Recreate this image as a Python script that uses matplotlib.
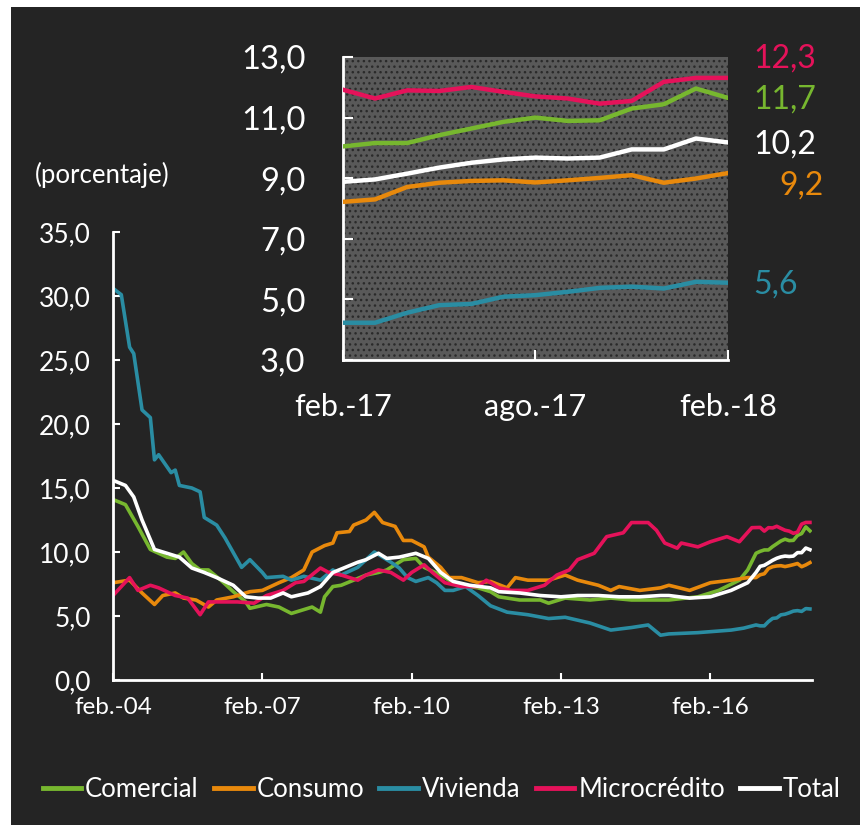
import numpy as np
import matplotlib
matplotlib.use("Agg")
import matplotlib.pyplot as plt
from matplotlib.patches import Rectangle

plt.rcParams['font.family'] = ['Lato', 'DejaVu Sans']

# meses desde feb.-04 (feb.-04 = 0 ... feb.-18 = 168)
# recuadro: feb.-17 a feb.-18, mensual
meses_ins = np.arange(156, 169)
com_ins = [10.05, 10.16, 10.16, 10.42, 10.64, 10.86, 11.0, 10.89, 10.91, 11.30, 11.44, 11.96, 11.65]
con_ins = [8.22, 8.30, 8.71, 8.85, 8.91, 8.93, 8.86, 8.93, 9.01, 9.10, 8.85, 8.99, 9.17]
viv_ins = [4.23, 4.23, 4.56, 4.81, 4.85, 5.09, 5.14, 5.25, 5.38, 5.42, 5.36, 5.58, 5.55]
mic_ins = [11.92, 11.63, 11.90, 11.88, 12.01, 11.85, 11.70, 11.63, 11.46, 11.55, 12.18, 12.31, 12.31]
tot_ins = [8.88, 8.96, 9.15, 9.35, 9.51, 9.62, 9.68, 9.65, 9.68, 9.95, 9.95, 10.31, 10.18]

# serie larga (antes de feb.-17)
m_com = [0, 3, 6, 9, 13, 15, 17, 19, 21, 23, 26, 29, 32, 33, 37, 40, 43, 46, 48, 50, 51, 53, 55, 58,
         61, 64, 66, 69, 70, 73, 75, 79, 81, 84, 88, 91, 93, 98, 103, 105, 109, 115, 120, 125, 129,
         134, 141, 146, 151, 153, 155]
v_com = [14.1, 13.7, 12.0, 10.2, 9.6, 9.5, 10.0, 9.1, 8.6, 8.6, 7.8, 6.9, 6.1, 5.6, 5.9, 5.7, 5.2, 5.5,
         5.7, 5.3, 6.5, 7.3, 7.4, 7.8, 8.2, 8.4, 8.6, 9.2, 9.4, 9.5, 8.8, 8.2, 7.8, 7.4, 7.2, 6.9, 6.5,
         6.25, 6.25, 6.0, 6.4, 6.25, 6.4, 6.25, 6.25, 6.25, 6.5, 7.0, 7.8, 8.6, 9.9]

m_con = [0, 4, 7, 10, 12, 15, 17, 20, 23, 25, 29, 33, 36, 40, 43, 46, 48, 51, 53, 54, 57, 58, 61, 63,
         65, 68, 70, 72, 75, 76, 79, 81, 84, 88, 91, 95, 97, 100, 105, 109, 112, 117, 120, 122, 127,
         132, 134, 139, 144, 149, 153, 155]
v_con = [7.6, 7.8, 6.8, 5.9, 6.6, 6.8, 6.4, 6.25, 5.7, 6.25, 6.5, 6.9, 7.0, 7.6, 8.0, 8.6, 10.0, 10.5,
         10.7, 11.5, 11.6, 12.1, 12.5, 13.1, 12.3, 12.0, 10.9, 10.9, 10.4, 9.6, 8.8, 8.0, 8.0, 7.6,
         7.7, 7.2, 8.0, 7.8, 7.8, 8.2, 7.8, 7.4, 7.0, 7.3, 7.0, 7.2, 7.4, 7.0, 7.6, 7.8, 8.0, 8.0]

m_viv = [0, 2, 4, 5, 7, 9, 10, 11, 14, 15, 16, 19, 21, 22, 25, 27, 31, 33, 36, 37, 41, 43, 46, 50, 53,
         55, 59, 63, 65, 67, 69, 71, 73, 76, 78, 80, 82, 85, 88, 91, 95, 100, 105, 109, 115, 120,
         125, 129, 132, 134, 141, 149, 152, 155]
v_viv = [30.6, 30.1, 26.0, 25.5, 21.1, 20.5, 17.2, 17.6, 16.2, 16.4, 15.2, 15.0, 14.7, 12.7, 12.1,
         11.1, 8.8, 9.4, 8.4, 8.0, 8.1, 7.8, 8.1, 7.8, 8.6, 8.2, 8.8, 10.0, 9.6, 9.2, 8.75, 8.0, 7.7,
         8.0, 7.6, 7.0, 7.0, 7.3, 6.6, 5.8, 5.3, 5.1, 4.8, 4.9, 4.45, 3.9, 4.1, 4.3, 3.5, 3.6, 3.7,
         3.9, 4.05, 4.3]

m_mic = [0, 4, 6, 9, 11, 15, 18, 21, 23, 25, 30, 34, 37, 41, 44, 46, 50, 52, 55, 59, 61, 64, 67, 70,
         72, 75, 77, 80, 84, 88, 90, 93, 96, 100, 104, 107, 110, 112, 116, 119, 123, 125, 129, 131,
         133, 136, 137, 141, 144, 148, 151, 154]
v_mic = [6.6, 8.0, 7.0, 7.4, 7.2, 6.6, 6.4, 5.1, 6.1, 6.1, 6.1, 6.0, 6.6, 7.0, 7.6, 7.7, 8.75, 8.4,
         8.2, 7.8, 8.2, 8.6, 8.4, 7.8, 8.4, 9.0, 8.4, 7.6, 7.3, 7.3, 7.8, 7.2, 7.0, 7.0, 7.4, 8.2, 8.6,
         9.4, 9.9, 11.2, 11.5, 12.3, 12.3, 11.7, 10.7, 10.3, 10.7, 10.4, 10.8, 11.2, 10.8, 11.9]

m_tot = [0, 3, 5, 7, 10, 13, 16, 19, 22, 25, 29, 32, 35, 38, 41, 43, 47, 50, 53, 56, 59, 61, 64, 66,
         69, 73, 76, 79, 82, 86, 91, 93, 98, 103, 108, 112, 117, 122, 127, 132, 134, 139, 144, 149,
         153, 155]
v_tot = [15.6, 15.2, 14.3, 12.5, 10.2, 9.9, 9.6, 8.75, 8.4, 8.0, 7.4, 6.5, 6.4, 6.4, 6.8, 6.5, 6.8,
         7.3, 8.4, 8.8, 9.2, 9.4, 9.9, 9.5, 9.6, 9.9, 9.5, 8.4, 7.7, 7.4, 7.2, 6.9, 6.8, 6.6, 6.5, 6.6,
         6.6, 6.5, 6.5, 6.6, 6.6, 6.4, 6.5, 7.0, 7.6, 8.4]

nombres = ['Comercial', 'Consumo', 'Vivienda', 'Microcrédito', 'Total']
colores = ['#77b72f', '#e8890c', '#2a8da3', '#e5125a', '#ffffff']
etiquetas_fin = ['11,7', '9,2', '5,6', '12,3', '10,2']
etiq_y = [11.6, 8.75, 5.5, 12.95, 10.1]
etiq_dx = [0.8, 1.6, 0.8, 0.8, 0.8]

ticks_x = [0, 36, 72, 108, 144]
ticks_x_lab = ['feb.-04', 'feb.-07', 'feb.-10', 'feb.-13', 'feb.-16']
ticks_y = np.arange(0, 36, 5)
ticks_ins_x = [156, 162, 168]
ticks_ins_lab = ['feb.-17', 'ago.-17', 'feb.-18']
ticks_ins_y = np.arange(3, 14, 2)

largos = [(m_com, v_com, com_ins), (m_con, v_con, con_ins), (m_viv, v_viv, viv_ins),
          (m_mic, v_mic, mic_ins), (m_tot, v_tot, tot_ins)]

fondo = '#242424'
fig = plt.figure(figsize=(8.6, 8.25), dpi=100, facecolor='white')
fig.patches.append(Rectangle((11/860, 0), 1, 1 - 7/825, transform=fig.transFigure,
                             facecolor=fondo, edgecolor='none', zorder=-10))

ax = fig.add_axes([113/860, 1 - 680/825, (812-113)/860, (680-232)/825])
ax.set_facecolor('none')
for (mm, vv, ins), nom, col in zip(largos, nombres, colores):
    x = list(mm) + list(meses_ins)
    y = list(vv) + list(ins)
    ax.plot(x, y, color=col, lw=2.6, label=nom, solid_joinstyle='round')

ax.set_xlim(0, 168.5)
ax.set_ylim(0, 35)
ax.set_xticks(ticks_x)
ax.set_xticklabels(ticks_x_lab)
ax.set_yticks(ticks_y)
ax.set_yticklabels([f'{t:.1f}'.replace('.', ',') for t in ticks_y])
for s in ['top', 'right']:
    ax.spines[s].set_visible(False)
for s in ['left', 'bottom']:
    ax.spines[s].set_color('white')
    ax.spines[s].set_linewidth(2)
ax.tick_params(axis='both', colors='white', direction='in', length=5, width=1.5)
ax.tick_params(axis='y', pad=16, labelsize=19)
ax.tick_params(axis='x', pad=12, labelsize=17.5)

fig.text(35/860, 1 - 175/825, '(porcentaje)', color='white', fontsize=18.5, va='center', ha='left')

leg = ax.legend(loc='center', bbox_to_anchor=(0.47, -0.245), ncol=5, frameon=False,
                fontsize=18.5, handlelength=1.5, handletextpad=0.15, columnspacing=0.6,
                borderaxespad=0)
for t in leg.get_texts():
    t.set_color('white')
for l in leg.get_lines():
    l.set_linewidth(3.5)

# recuadro
ai = fig.add_axes([343/860, 1 - 360/825, (728-343)/860, (360-57)/825])
ai.set_facecolor('#595959')
ai.add_patch(Rectangle((0, 0), 1, 1, transform=ai.transAxes, facecolor='none',
                       edgecolor='#2a2a2a', hatch='...', lw=0, zorder=0))
for (mm, vv, ins), col, lab, ly, dx in zip(largos, colores, etiquetas_fin, etiq_y, etiq_dx):
    ai.plot(meses_ins, ins, color=col, lw=3.2, zorder=3)
    ai.text(meses_ins[-1] + dx, ly, lab, color=col, fontsize=23, va='center', ha='left',
            clip_on=False)
ai.set_xlim(156, 168)
ai.set_ylim(3, 13)
ai.set_xticks(ticks_ins_x)
ai.set_xticklabels(ticks_ins_lab)
ai.set_yticks(ticks_ins_y)
ai.set_yticklabels([f'{t:.1f}'.replace('.', ',') for t in ticks_ins_y])
for s in ['top', 'right']:
    ai.spines[s].set_visible(False)
for s in ['left', 'bottom']:
    ai.spines[s].set_color('white')
    ai.spines[s].set_linewidth(2)
ai.tick_params(axis='both', colors='white', direction='in', length=7, width=1.5)
ai.tick_params(axis='y', pad=27, labelsize=23.5)
ai.tick_params(axis='x', pad=24, labelsize=22)

fig.savefig('out.png', dpi=100, facecolor='white')
